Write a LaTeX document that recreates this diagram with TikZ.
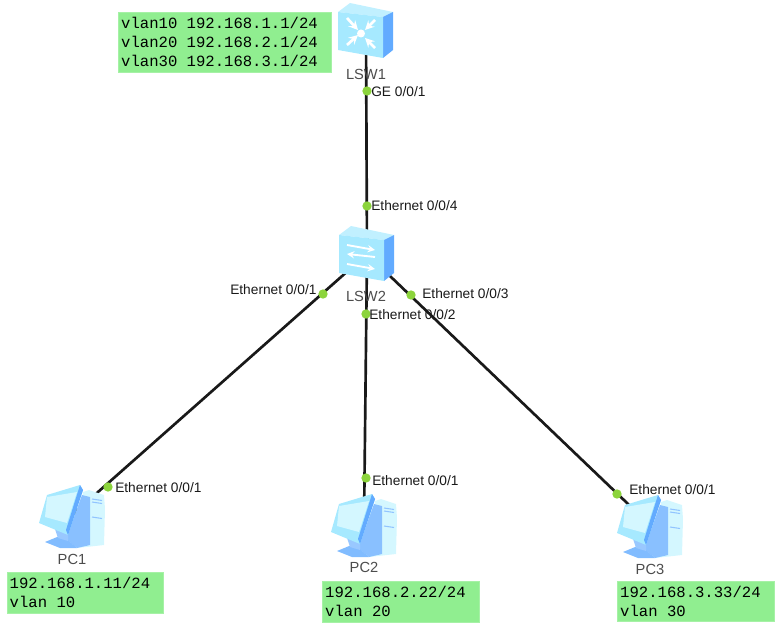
\documentclass[tikz,border=0pt]{standalone}
\usepackage{fontspec}
\setmainfont{Liberation Sans}
\newfontfamily\boxfont{Liberation Mono}
\definecolor{notegreen}{HTML}{90EE90}
\definecolor{portgreen}{HTML}{8CD43C}
\definecolor{iconpale}{HTML}{D4F7FF}
\definecolor{iconlight}{HTML}{A6E9FF}
\definecolor{iconblue}{HTML}{62ABFF}
\newcommand{\notegap}{\hspace{7pt}}
\tikzset{
  devnode/.style={inner sep=0pt,minimum size=0pt},
  port/.style={circle,fill=portgreen,inner sep=0pt,minimum size=7pt},
  portlabel/.style={anchor=west,inner sep=0pt,text=black!90,font=\fontsize{10.3}{12}\selectfont},
  namelabel/.style={inner sep=0pt,text=black!70,font=\fontsize{11}{12}\selectfont},
  note/.style={fill=notegreen,draw=notegreen!80!white,line width=0.5pt,anchor=north west,inner sep=0pt,
    align=left,font=\boxfont\fontsize{11.7}{14.3}\selectfont},
  link/.style={line width=2pt,black!90},
  pcicon/.pic={
    \fill[iconpale] (11,-23)--(17,-25)--(32,-20)--(33,-6)--(32,30)--(5,33)--cycle;
    \fill[iconblue!75] (10,-20)--(18,-18)--(18,30)--(5,33)--(-6,24)--cycle;
    \fill[iconblue!80] (-27,27)--(-10,20)--(5,33)--(-12,33)--cycle;
    \fill[iconblue!65] (-17,14)--(-4,18)--(-4,26)--(-14,23)--cycle;
    \fill[iconlight] (-25,-20)--(8,-30)--(11,-25)--(-4,20)--(-33,8)--cycle;
    \fill[iconblue] (8,-30)--(11,-25)--(-4,20)--(-6,15)--cycle;
    \fill[iconpale] (-25,-18)--(5,-23)--(-5,8)--(-27,2)--cycle;
    \foreach \yy in {-16,-13,2} \draw[iconblue!70,line width=0.8pt] (20,\yy)--(30,\yy+1.5);
  },
  swbox/.pic={
    \fill[iconlight!70!white] (-28,-19)--(-16,-28)--(27,-19)--(17,-14)--cycle;
    \fill[iconblue] (17,-14)--(27,-19)--(27,19)--(17,27)--cycle;
    \fill[iconlight] (-28,-19)--(17,-14)--(17,27)--(-28,19)--cycle;
  },
}
\begin{document}
\begin{tikzpicture}[x=0.75pt,y=-0.75pt]
  \useasboundingbox (0,0) rectangle (781,627);
  % devices first, the icons go over the links
  \node[devnode] (lsw1) at (366,31) {};
  \node[devnode] (lsw2) at (367,254) {};
  \node[devnode] (pc1) at (72,515) {};
  \node[devnode] (pc2) at (364,524) {};
  \node[devnode] (pc3) at (650,525) {};
  % links
  \draw[link] (lsw1)--(lsw2);
  \draw[link] (lsw2)--(pc1);
  \draw[link] (lsw2)--(pc2);
  \draw[link] (lsw2)--(pc3);
  % icons
  \pic at (lsw1) {swbox};
  \pic at (lsw2) {swbox};
  \pic at (pc1) {pcicon};
  \pic at (pc2) {pcicon};
  \pic at (pc3) {pcicon};
  % white marks on the switches
  \begin{scope}[shift={(lsw1)},white,line width=2pt,->,>=stealth]
    \draw (-19,-13)--(-8,-1);
    \draw (9,-11)--(-1,-1);
    \draw (-19,14)--(-8,4);
    \draw (9,17)--(-1,7);
    \fill[white] (-5,2.5) circle (4);
  \end{scope}
  \begin{scope}[shift={(lsw2)},white,line width=1.4pt,->,>=stealth]
    \draw (-20,-9)--(8,-4);
    \draw (8,3)--(-20,0);
    \draw (-20,10)--(8,15);
  \end{scope}
  % ports on the links
  \node[port] (lsw1ge) at (367,91) {};
  \node[port] (lsw2e4) at (367,206) {};
  \node[port] (lsw2e1) at (323,294) {};
  \node[port] (lsw2e2) at (366,314) {};
  \node[port] (lsw2e3) at (411,295) {};
  \node[port] (pc1e) at (108,487) {};
  \node[port] (pc2e) at (366,478) {};
  \node[port] (pc3e) at (617,494) {};
  \node[portlabel] at (371,92) {GE 0/0/1};
  \node[portlabel] at (371,206) {Ethernet 0/0/4};
  \node[portlabel] at (230,290) {Ethernet 0/0/1};
  \node[portlabel] at (369,315) {Ethernet 0/0/2};
  \node[portlabel] at (422,294) {Ethernet 0/0/3};
  \node[portlabel] at (115,488) {Ethernet 0/0/1};
  \node[portlabel] at (372,481) {Ethernet 0/0/1};
  \node[portlabel] at (629,490) {Ethernet 0/0/1};
  % names
  \node[namelabel] at (366,74) {LSW1};
  \node[namelabel] at (366,296) {LSW2};
  \node[namelabel] at (72,559) {PC1};
  \node[namelabel] at (364,567) {PC2};
  \node[namelabel] at (650,569) {PC3};
  % notes
  \node[note,minimum width=159.75pt,minimum height=45pt,text width=156pt] (vlanif) at (118,12)
    {\hspace*{0.3pt}vlan10\notegap 192.168.1.1/24\\\hspace*{0.3pt}vlan20\notegap 192.168.2.1/24\\\hspace*{0.3pt}vlan30\notegap 192.168.3.1/24};
  \node[note,minimum width=117pt,minimum height=30.75pt,text width=114pt] (pc1note) at (7,572)
    {\hspace*{0.3pt}192.168.1.11/24\\\hspace*{0.3pt}vlan\notegap 10};
  \node[note,minimum width=117.75pt,minimum height=30.75pt,text width=114pt] (pc2note) at (322,581)
    {\hspace*{0.3pt}192.168.2.22/24\\\hspace*{0.3pt}vlan\notegap 20};
  \node[note,minimum width=117.75pt,minimum height=30pt,text width=114pt] (pc3note) at (617,581)
    {\hspace*{0.3pt}192.168.3.33/24\\\hspace*{0.3pt}vlan\notegap 30};
\end{tikzpicture}
\end{document}
